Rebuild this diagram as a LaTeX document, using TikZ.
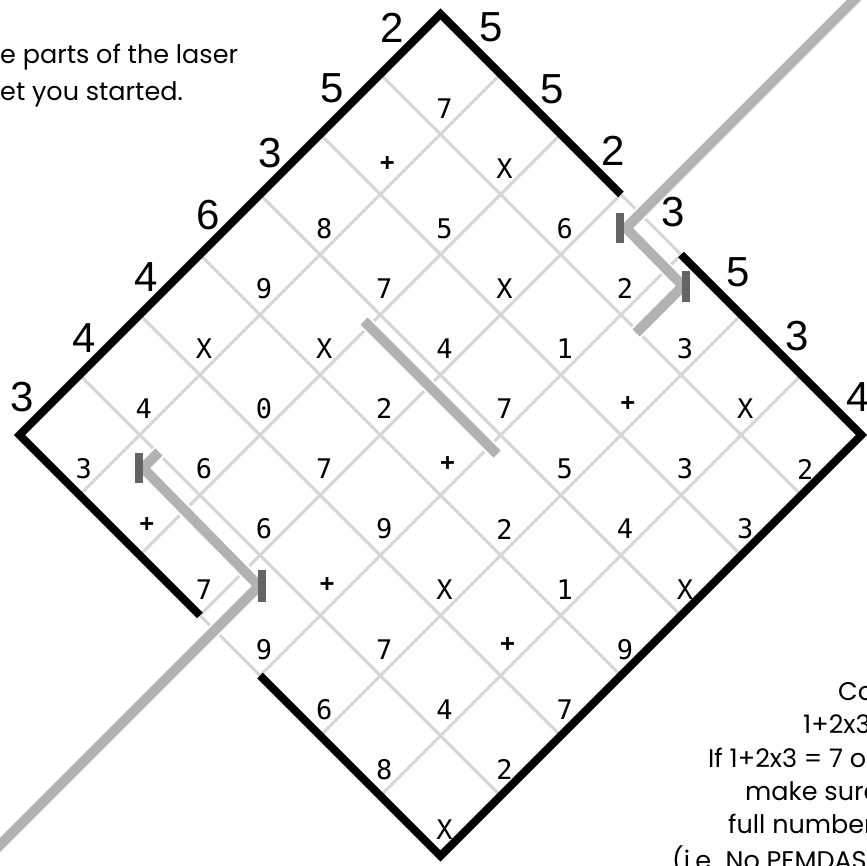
\documentclass[tikz,border=0pt]{standalone}
\usepackage{fontspec}
\setmainfont{Poppins}
\newfontfamily\edgefont{Liberation Sans}
\newfontfamily\cellfont{DejaVu Sans Mono}
\definecolor{gridgray}{HTML}{D6D6D6}
\definecolor{lasergray}{HTML}{B2B2B2}
\definecolor{mirrorgray}{HTML}{646464}
\begin{document}
\begin{tikzpicture}[x=1pt,y=-1pt,
  gridline/.style={draw=gridgray,line width=3pt},
  border/.style={draw=black,line width=8pt,line join=miter,line cap=butt},
  laserhalo/.style={draw=white,line width=14pt,line join=miter},
  laser/.style={draw=lasergray,line width=10pt,line join=miter},
  mirrorbar/.style={draw=mirrorgray,line width=8pt},
  celltxt/.style={inner sep=0pt,font=\cellfont\fontsize{27}{27}\selectfont},
  plustxt/.style={inner sep=0pt,font=\cellfont\bfseries\fontsize{24}{24}\selectfont},
  edgelbl/.style={inner sep=0pt,font=\edgefont\fontsize{42}{42}\selectfont},
  bodytxt/.style={inner sep=0pt,anchor=base west,font=\fontsize{25.5}{25.5}\selectfont}]
\useasboundingbox (0,0) rectangle (867,865);
\fill[white] (0,0) rectangle (867,865);
\begin{scope}
\clip (0,0) rectangle (867,865);
% grid points P(a,b)
\foreach \a in {0,...,7}{
  \foreach \b in {0,...,7}{
    \coordinate (p\a\b) at ({19.5+(\a+\b)*60.14},{435+(\b-\a)*60.14});
  }
}
% grid lines
\foreach \k in {0,...,7}{
  \draw[gridline] (p\k0) -- (p\k7);
  \draw[gridline] (p0\k) -- (p7\k);
}
% black borders
\draw[border] (p03) -- (p00) -- (p70) -- (p73);
\draw[border] (p74) -- (p77) -- (p07) -- (p04);
% lasers
\coordinate (l1s) at (900,-46);
\coordinate (l1a) at (626,228);
\coordinate (l1b) at (683,286);
\coordinate (l1e) at (636,333);
\coordinate (l2s) at (364,321);
\coordinate (l2e) at (497,454);
\coordinate (l3s) at (-30,875);
\coordinate (l3a) at (259,586);
\coordinate (l3b) at (143,468);
\coordinate (l3e) at (159,452);
\draw[laserhalo] (l1s) -- (l1a) -- (l1b) -- (l1e);
\draw[laserhalo] (l2s) -- (l2e);
\draw[laserhalo] (l3s) -- (l3a) -- (l3b) -- (l3e);
\draw[laser] (l1s) -- (l1a) -- (l1b) -- (l1e);
\draw[laser] (l2s) -- (l2e);
\draw[laser] (l3s) -- (l3a) -- (l3b) -- (l3e);
% mirrors
\coordinate (m1t) at (620,213); \coordinate (m1b) at (620,243);
\coordinate (m2t) at (686,271); \coordinate (m2b) at (686,302);
\coordinate (m3t) at (139,453); \coordinate (m3b) at (139,483);
\coordinate (m4t) at (261.5,570); \coordinate (m4b) at (261.5,602);
\draw[mirrorbar] (m1t) -- (m1b);
\draw[mirrorbar] (m2t) -- (m2b);
\draw[mirrorbar] (m3t) -- (m3b);
\draw[mirrorbar] (m4t) -- (m4b);
% cell symbols
\foreach \a/\b/\s in {6/0/7, 6/1/X,
  4/0/8, 5/1/5, 6/2/6,
  3/0/9, 4/1/7, 5/2/X, 6/3/2,
  2/0/X, 3/1/X, 4/2/4, 5/3/1, 6/4/3,
  1/0/4, 2/1/0, 3/2/2, 4/3/7, 6/5/X,
  0/0/3, 1/1/6, 2/2/7, 4/4/5, 5/5/3, 6/6/2,
  1/2/6, 2/3/9, 3/4/2, 4/5/4, 5/6/3,
  0/2/7, 2/4/X, 3/5/1, 4/6/X,
  0/3/9, 1/4/7, 3/6/9,
  0/4/6, 1/5/4, 2/6/7,
  0/5/8, 1/6/2,
  0/6/X}{
  \node[celltxt] (c\a\b) at ({19.5+(\a+\b+1)*60.14+4},{435+(\b-\a)*60.14+34}) {\s};
}
\foreach \a/\b in {5/0, 5/4, 3/3, 0/1, 1/3, 2/5}{
  \node[plustxt] (c\a\b) at ({19.5+(\a+\b+1)*60.14+7},{435+(\b-\a)*60.14+29}) {+};
}
% edge labels
\foreach \x/\y/\s [count=\i] in {22/397/3, 84/338/4, 146/277/4, 208/215/6, 270/153/3, 332/88/5, 392/28/2}{
  \node[edgelbl] (lft\i) at (\x,\y) {\s};
}
\foreach \x/\y/\s [count=\i] in {491/27/5, 552/89/5, 613/151/2, 673/212/3, 738/272/5, 797/336/3, 858/397/4}{
  \node[edgelbl] (rgt\i) at (\x,\y) {\s};
}
% body text
\node[bodytxt] (t1) at (0,63) {e parts of the laser};
\node[bodytxt] (t2) at (0,100) {et you started.};
\node[bodytxt] (r1) at (838,700) {Co};
\node[bodytxt] (r2) at (803,733) {1+2x3};
\node[bodytxt] (r3) at (708,767) {If 1+2x3 = 7 o};
\node[bodytxt] (r4) at (745,800) {make sure};
\node[bodytxt] (r5) at (728,833) {full number};
\node[bodytxt] (r6) at (672,869) {(i.e. No PEMDAS};
\end{scope}
\end{tikzpicture}
\end{document}
